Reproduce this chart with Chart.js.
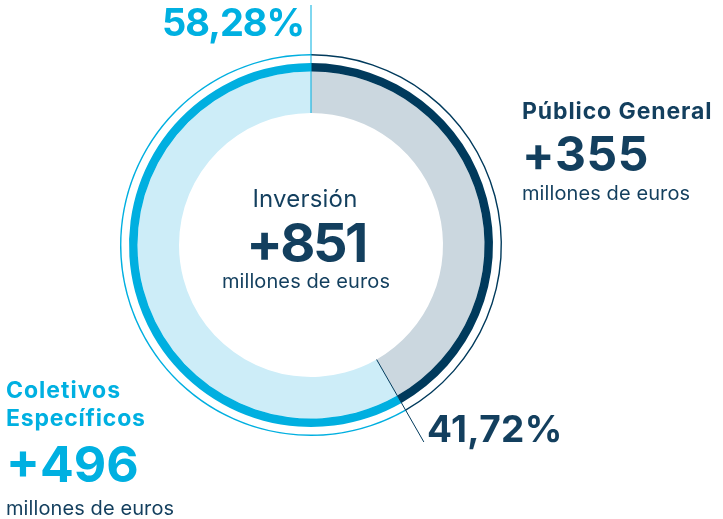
<!DOCTYPE html>
<html>
<head>
<meta charset="utf-8">
<script src="https://cdn.jsdelivr.net/npm/chart.js@4"></script>
<style>
  html, body { margin: 0; padding: 0; background: #fff; }
  #wrap { position: relative; width: 723px; height: 519px; overflow: hidden; font-family: Inter, "Noto Sans", sans-serif; }
  #wrap canvas { position: absolute; left: 0; top: 0; }
  .t { position: absolute; white-space: nowrap; line-height: 1; }
  .navy { color: #133f5e; }
  .cyan { color: #00b0e1; }
  .b { font-weight: 700; }
</style>
</head>
<body>
<div id="wrap">
  <canvas id="chart" width="723" height="519"></canvas>

  <div class="t cyan b" style="left:162px; top:3px; font-size:38px; letter-spacing:-1px;">58,28%</div>
  <div class="t navy b" style="left:427px; top:410px; font-size:37px; letter-spacing:0.4px;">41,72%</div>

  <div class="t navy" style="left:305px; top:187px; font-size:24px; letter-spacing:0.2px; transform:translateX(-50%);">Inversión</div>
  <div class="t navy b" style="left:306px; top:216px; font-size:54px; letter-spacing:-2.5px; transform:translateX(-50%);">+851</div>
  <div class="t navy" style="left:306px; top:271px; font-size:20px; letter-spacing:0.1px; transform:translateX(-50%);">millones de euros</div>

  <div class="t navy b" style="left:522px; top:100px; font-size:23px; letter-spacing:0.9px;">Público General</div>
  <div class="t navy b" style="left:522px; top:130px; font-size:48px; letter-spacing:0.6px;">+355</div>
  <div class="t navy" style="left:522px; top:183px; font-size:20px; letter-spacing:0.1px;">millones de euros</div>

  <div class="t cyan b" style="left:6px; top:379px; font-size:23px; letter-spacing:1px;">Coletivos</div>
  <div class="t cyan b" style="left:6px; top:407px; font-size:23px; letter-spacing:0.8px;">Específicos</div>
  <div class="t cyan b" style="left:6px; top:439px; font-size:50px; letter-spacing:0px;">+496</div>
  <div class="t navy" style="left:6px; top:498px; font-size:20px; letter-spacing:0.1px;">millones de euros</div>
</div>

<script>
// data
const labels = ['Público General', 'Coletivos Específicos'];
const amounts = [355, 496];          // millones de euros
const shares = [41.72, 58.28];       // %

const navy = '#003a5c';
const cyan = '#00afe0';
const lightCyan = '#cdedf8';
const grey = '#cbd7df';

// leader lines drawn from the arc geometry of the inner ring
const leaders = {
  id: 'leaders',
  afterDatasetsDraw(chart) {
    const meta = chart.getDatasetMeta(3);
    const first = meta.data[0];
    const ctx = chart.ctx;
    const lines = [
      { angle: first.startAngle, to: 240, color: cyan },
      { angle: first.endAngle, to: 227, color: navy },
    ];
    ctx.save();
    ctx.lineWidth = 1;
    lines.forEach((l) => {
      const cos = Math.cos(l.angle);
      const sin = Math.sin(l.angle);
      ctx.strokeStyle = l.color;
      ctx.beginPath();
      ctx.moveTo(first.x + cos * first.innerRadius, first.y + sin * first.innerRadius);
      ctx.lineTo(first.x + cos * l.to, first.y + sin * l.to);
      ctx.stroke();
    });
    ctx.restore();
  },
};

new Chart(document.getElementById('chart'), {
  type: 'doughnut',
  data: {
    labels: labels,
    datasets: [
      { data: shares, backgroundColor: [navy, cyan], borderWidth: 0, weight: 1.4 },
      { data: shares, backgroundColor: ['rgba(0,0,0,0)', 'rgba(0,0,0,0)'], borderWidth: 0, weight: 7.6 },
      { data: shares, backgroundColor: [navy, cyan], borderWidth: 0, weight: 8.5 },
      { data: shares, backgroundColor: [grey, lightCyan], borderWidth: 0, weight: 41.5 },
    ],
  },
  options: {
    responsive: false,
    animation: false,
    cutout: 132,
    layout: { padding: { left: 120, top: 54, right: 221, bottom: 83 } },
    plugins: { legend: { display: false }, tooltip: { enabled: false } },
  },
  plugins: [leaders],
});
</script>
</body>
</html>
